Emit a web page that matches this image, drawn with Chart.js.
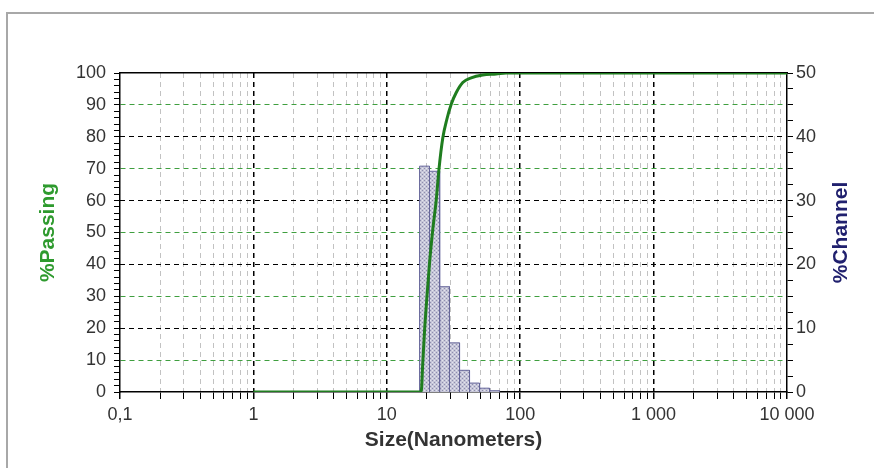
<!DOCTYPE html>
<html>
<head>
<meta charset="utf-8">
<script src="https://cdn.jsdelivr.net/npm/chart.js@4.4.1/dist/chart.umd.min.js"></script>
<style>
    html, body { margin: 0; padding: 0; background: #fff; overflow: hidden; }
    #wrap { position: relative; width: 874px; height: 468px; overflow: hidden; }
    #frame { position: absolute; left: 6px; top: 12px; right: 0; bottom: 0; border: 2px solid #a8a8a8; border-right: none; border-bottom: none; }
    canvas { position: absolute; left: 0; top: 0; }
</style>
</head>
<body>
<div id="wrap">
    <div id="frame"></div>
    <canvas id="psdChart" width="874" height="468"></canvas>
</div>
<script>
    // channel histogram
    const binEdges = [17.6, 20.9, 24.9, 29.5, 35.1, 41.7, 49.6, 58.9, 70.0];
    const channelPct = [35.4, 34.6, 16.5, 7.7, 3.4, 1.4, 0.6, 0.2];

    // cumulative % passing curve
    const curveSize = [1, 18.1, 18.6, 19.2, 20.0, 20.9, 22.1, 23.5, 24.6, 26.3, 28.2, 30.4, 33.1, 37.1, 42.9, 52.4, 66.0, 78.4, 10000];
    const curvePassing = [0, 0, 9, 19.4, 29.9, 40.3, 50.8, 60.4, 69.8, 79.7, 85.5, 90.2, 93.8, 97.0, 98.5, 99.4, 99.7, 100, 100];

    // x axis ticks
    const decades = [0.1, 1, 10, 100, 1000, 10000];
    const decadeLabels = ['0,1', '1', '10', '100', '1 000', '10 000'];

    const xTickValues = [];
    decades.forEach((d, i) => {
        xTickValues.push(d);
        if (i < decades.length - 1) {
            for (let k = 2; k <= 9; k++) xTickValues.push(+(d * k).toPrecision(3));
        }
    });
    const isDecade = (v) => decades.some((d) => Math.abs(d - v) < d * 1e-6);
    const decadeLabel = (v) => {
        const i = decades.findIndex((d) => Math.abs(d - v) < d * 1e-6);
        return i >= 0 ? decadeLabels[i] : '';
    };

    const histPoints = [];
    channelPct.forEach((v, i) => {
        histPoints.push({ x: binEdges[i], y: 0 }, { x: binEdges[i], y: v }, { x: binEdges[i + 1], y: v });
    });
    histPoints.push({ x: binEdges[binEdges.length - 1], y: 0 });

    const curvePoints = curveSize.map((s, i) => ({ x: s, y: curvePassing[i] }));

    const canvas = document.getElementById('psdChart');
    const ctx = canvas.getContext('2d');

    const pc = document.createElement('canvas');
    pc.width = 4; pc.height = 4;
    const pctx = pc.getContext('2d');
    pctx.fillStyle = '#c6c6d8';
    pctx.fillRect(0, 0, 4, 4);
    pctx.fillStyle = '#8e8eae';
    pctx.fillRect(0, 0, 1, 1);
    pctx.fillRect(2, 2, 1, 1);
    pctx.fillStyle = '#e4e4ee';
    pctx.fillRect(2, 0, 1, 1);
    pctx.fillRect(0, 2, 1, 1);
    const hatch = ctx.createPattern(pc, 'repeat');

    Chart.defaults.font.family = '"Liberation Sans", Arial, sans-serif';
    Chart.defaults.color = '#333';

    const channelTitle = {
        id: 'channelTitle',
        afterDraw(chart) {
            const s = chart.scales.y2;
            const c = chart.ctx;
            c.save();
            c.translate(s.right - 33, (chart.chartArea.top + chart.chartArea.bottom) / 2);
            c.rotate(-Math.PI / 2);
            c.font = 'bold 21px "Liberation Sans", Arial, sans-serif';
            c.fillStyle = '#20206e';
            c.textAlign = 'center';
            c.textBaseline = 'middle';
            c.fillText('%Channel', 0, 0);
            c.restore();
        },
    };

    new Chart(ctx, {
        type: 'line',
        data: {
            datasets: [{
                label: '%Passing',
                data: curvePoints,
                yAxisID: 'y',
                borderColor: '#1f7d1f',
                borderWidth: 3,
                pointRadius: 0,
                cubicInterpolationMode: 'monotone',
                fill: false,
            }, {
                label: '%Channel',
                data: histPoints,
                yAxisID: 'y2',
                borderColor: '#66669a',
                borderWidth: 1,
                backgroundColor: hatch,
                pointRadius: 0,
                tension: 0,
                fill: 'origin',
            }],
        },
        options: {
            responsive: false,
            animation: false,
            layout: { padding: { top: 73, left: 0, right: 0, bottom: 0 } },
            plugins: { legend: { display: false }, tooltip: { enabled: false } },
            scales: {
                x: {
                    type: 'logarithmic',
                    position: 'bottom',
                    min: 0.1,
                    max: 10000,
                    afterBuildTicks: (s) => { s.ticks = xTickValues.map((v) => ({ value: v })); },
                    afterFit: (s) => { s.height = 76; },
                    ticks: {
                        autoSkip: false,
                        maxRotation: 0,
                        padding: 5,
                        font: { size: 18 },
                        callback: (v) => decadeLabel(v),
                    },
                    grid: {
                        color: (c) => {
                            const v = c.tick && c.tick.value;
                            if (v === undefined || v === 0.1 || v === 10000) return 'transparent';
                            return isDecade(v) ? '#000' : '#c2c2c2';
                        },
                        lineWidth: (c) => (c.tick && isDecade(c.tick.value) ? 1.5 : 1),
                        tickColor: '#000',
                        tickLength: 7,
                    },
                    border: { color: '#000', width: 1.5, dash: [5, 4] },
                    title: {
                        display: true,
                        text: 'Size(Nanometers)',
                        color: '#333',
                        font: { size: 21, weight: 'bold' },
                        padding: { top: 0, bottom: 15 },
                    },
                },
                xTop: {
                    type: 'logarithmic',
                    position: 'top',
                    min: 0.1,
                    max: 10000,
                    afterFit: (s) => { s.height = 0; },
                    ticks: { display: false },
                    grid: { drawOnChartArea: false, drawTicks: false },
                    border: { color: '#000', width: 1.5 },
                },
                y: {
                    position: 'left',
                    min: 0,
                    max: 100,
                    afterFit: (s) => { s.width = 120; },
                    ticks: {
                        stepSize: 2,
                        autoSkip: false,
                        padding: 8,
                        font: { size: 18 },
                        callback: (v) => (v % 10 === 0 ? v : ''),
                    },
                    grid: {
                        color: (c) => (c.tick && c.tick.value % 20 === 10 ? '#3f9f3f' : 'transparent'),
                        tickColor: '#000',
                        tickLength: 6,
                    },
                    border: { color: '#000', width: 1.5, dash: [5, 4] },
                    title: {
                        display: true,
                        text: '%Passing',
                        color: '#2e9a2e',
                        font: { size: 21, weight: 'bold' },
                        padding: { top: 36, bottom: 0 },
                    },
                },
                y2: {
                    position: 'right',
                    min: 0,
                    max: 50,
                    afterFit: (s) => { s.width = 87; },
                    ticks: {
                        stepSize: 2.5,
                        autoSkip: false,
                        padding: 3,
                        font: { size: 18 },
                        callback: (v) => (v % 10 === 0 ? v : ''),
                    },
                    grid: {
                        color: (c) => {
                            const v = c.tick && c.tick.value;
                            return v % 10 === 0 && v > 0 && v < 50 ? '#000' : 'transparent';
                        },
                        tickColor: '#000',
                        tickLength: 6,
                    },
                    border: { color: '#000', width: 1.5, dash: [5, 4] },
                },
            },
        },
        plugins: [channelTitle],
    });
</script>
</body>
</html>
